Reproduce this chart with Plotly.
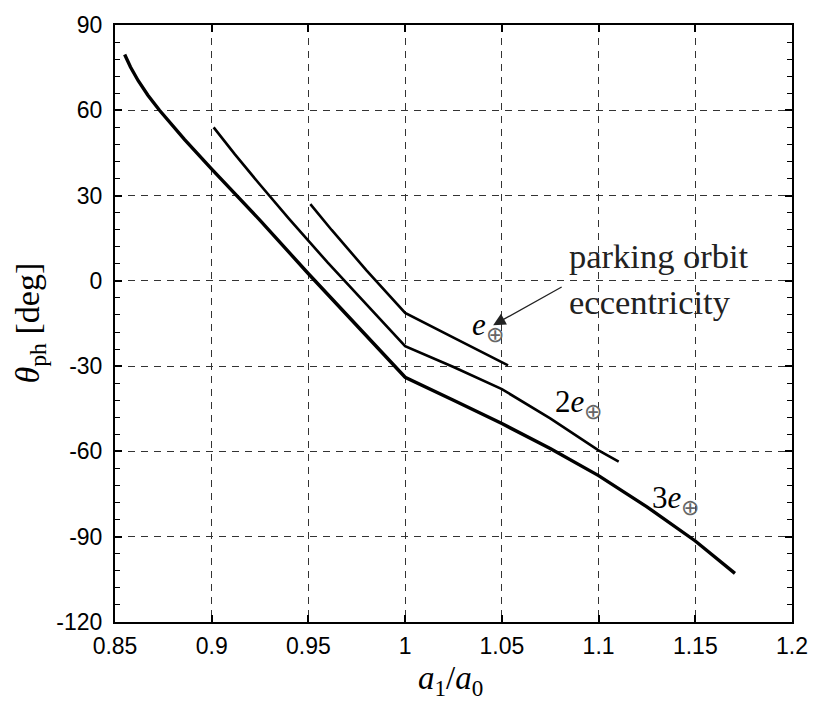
import plotly.graph_objects as go

# Phase angle vs. semi-major axis ratio for three parking-orbit eccentricities
ratio_1e = [0.951, 0.962, 0.980, 1.000, 1.025, 1.0532]
theta_1e = [27.0, 17.9, 3.7, -11.3, -20.0, -29.7]

ratio_2e = [0.901, 0.912, 0.925, 0.940, 0.960, 0.980, 1.000, 1.025, 1.050, 1.075, 1.100, 1.1104]
theta_2e = [54.0, 44.5, 33.8, 21.8, 6.4, -8.4, -23.0, -30.3, -38.1, -48.4, -59.6, -63.6]

ratio_3e = [0.855, 0.858, 0.862, 0.867, 0.873, 0.886, 0.900, 0.925, 0.950, 0.975, 1.000,
            1.025, 1.050, 1.075, 1.100, 1.125, 1.150, 1.1705]
theta_3e = [79.6, 75.2, 70.4, 65.3, 60.0, 49.7, 39.3, 21.3, 2.5, -15.8, -33.9,
            -42.0, -50.2, -59.0, -68.5, -79.5, -91.5, -102.9]

x_ticks = [0.85, 0.9, 0.95, 1.0, 1.05, 1.1, 1.15, 1.2]
x_tick_text = ["0.85", "0.9", "0.95", "1", "1.05", "1.1", "1.15", "1.2"]
y_ticks = [-120, -90, -60, -30, 0, 30, 60, 90]
y_tick_text = ["-120", "-90", "-60", "-30", "0", "30", "60", "90"]

SERIF = "Liberation Serif"
SANS = "Liberation Sans"

fig = go.Figure()
for xs, ys, w in [(ratio_3e, theta_3e, 3.4), (ratio_2e, theta_2e, 2.6), (ratio_1e, theta_1e, 2.6)]:
    fig.add_trace(go.Scatter(x=xs, y=ys, mode="lines", line=dict(color="black", width=w),
                             showlegend=False, hoverinfo="skip"))

axis_common = dict(
    showline=True, linecolor="black", linewidth=2, mirror="allticks",
    ticks="inside", ticklen=7, tickwidth=1.5, tickcolor="black",
    showgrid=True, gridcolor="#333333", gridwidth=1, griddash="7px,6px",
    zeroline=False, tickfont=dict(family=SANS, size=23, color="black"),
)

fig.update_xaxes(range=[0.85, 1.2], tickvals=x_ticks, ticktext=x_tick_text, ticklabelstandoff=2, **axis_common)
fig.update_yaxes(range=[-120, 90], tickvals=y_ticks, ticktext=y_tick_text, ticklabelstandoff=6,
                 minor=dict(dtick=6, tick0=0, ticks="inside", ticklen=5, tickwidth=1.2, tickcolor="black", showgrid=False),
                 **axis_common)

OPLUS = '<sub><span style="color:#666666">⊕</span></sub>'

annotations = [
    dict(text="<i>θ</i><sub>ph</sub> [deg]", xref="paper", yref="paper", x=-0.127, y=0.5,
         textangle=-90, showarrow=False, xanchor="center", yanchor="middle",
         font=dict(family=SERIF, size=34, color="black")),
    dict(text="<i>a</i><sub>1</sub>/<i>a</i><sub>0</sub>", xref="paper", yref="paper", x=0.496, y=-0.098,
         showarrow=False, xanchor="center", yanchor="middle",
         font=dict(family=SERIF, size=33, color="black")),
    dict(text="parking orbit", x=1.0836, y=8.7, showarrow=False, xanchor="left", yanchor="middle",
         font=dict(family=SERIF, size=34.5, color="#222222")),
    dict(text="eccentricity", x=1.0836, y=-7.4, showarrow=False, xanchor="left", yanchor="middle",
         font=dict(family=SERIF, size=34.5, color="#222222")),
    dict(text="<i>e</i>" + OPLUS, x=1.0335, y=-16.2, showarrow=False, xanchor="left", yanchor="middle",
         font=dict(family=SERIF, size=31, color="black")),
    dict(text="2<i>e</i>" + OPLUS, x=1.0765, y=-43.3, showarrow=False, xanchor="left", yanchor="middle",
         font=dict(family=SERIF, size=31, color="black")),
    dict(text="3<i>e</i>" + OPLUS, x=1.1268, y=-77.0, showarrow=False, xanchor="left", yanchor="middle",
         font=dict(family=SERIF, size=31, color="black")),
    dict(text="", x=1.0455, y=-15.6, ax=70, ay=-39, showarrow=True, arrowhead=2, arrowsize=1.9,
         arrowwidth=1.3, arrowcolor="#222222", standoff=0),
]

fig.update_layout(
    width=820, height=706,
    margin=dict(l=115, r=22, t=14, b=84),
    plot_bgcolor="white", paper_bgcolor="white",
    annotations=annotations,
)

fig.write_html("out.html")
